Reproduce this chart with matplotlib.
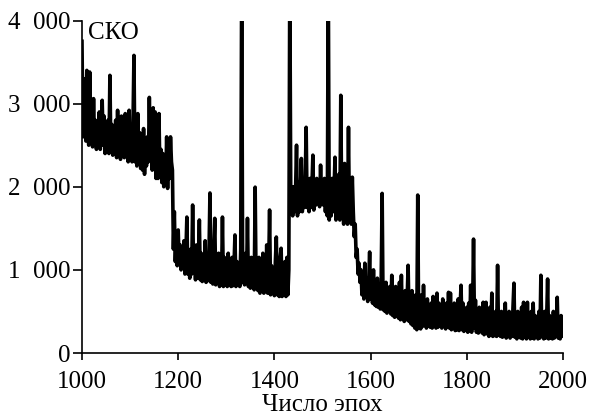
import matplotlib
matplotlib.use("Agg")
import matplotlib.pyplot as plt
from matplotlib.ticker import FuncFormatter

plt.rcParams['font.family'] = ['Liberation Serif', 'DejaVu Serif']

epoch_start = 1000
epoch_step = 2

# epochs 1000..1188
sko_a = [3750, 2600, 2900, 3300, 2550, 3400, 2700, 2500, 3380, 2650,
         3050, 2480, 3060, 2550, 2800, 2450, 2700, 2520, 2900, 2450,
         2750, 3040, 2500, 2850, 2400, 2700, 2450, 2800, 2400, 3340,
         2450, 2750, 2380, 2650, 2400, 2800, 2350, 2920, 2400, 2700,
         2330, 2850, 2400, 2600, 2350, 2880, 2380, 2700, 2300, 2920,
         2350, 2650, 2300, 2750, 3580, 2300, 2600, 2250, 2880, 2300,
         2650, 2220, 2550, 2200, 2700, 2150, 2500, 2250, 2600, 2300,
         3075, 2400, 2850, 2200, 2950, 2250, 2900, 2100, 2600, 2100,
         2880, 2150, 2450, 2050, 2400, 2000, 2350, 2050, 2600, 1980,
         2550, 2100, 2600, 2300, 2200]
# epochs 1190..1434
sko_b = [1250, 1700, 1100, 1400, 1050, 1480, 1100, 1300, 1000, 1250,
         1050, 1350, 950, 1200, 1635, 950, 1150, 900, 1250, 950,
         1780, 1000, 1150, 880, 1300, 900, 1100, 1600, 880, 1200,
         860, 1150, 900, 1350, 850, 1100, 870, 1200, 1925, 850,
         1150, 830, 1250, 1620, 820, 1100, 850, 1200, 800, 1050,
         820, 1635, 800, 1150, 830, 1050, 800, 1200, 820, 1000,
         800, 1150, 810, 1050, 1420, 800, 1100, 850, 1000, 800,
         1250, 4600, 850, 1100, 820, 1200, 850, 1620, 800, 1050,
         780, 1150, 800, 1100, 760, 1995, 780, 1000, 750, 1150,
         720, 1050, 760, 1200, 720, 1100, 740, 1300, 720, 1000,
         1720, 700, 1050, 720, 950, 690, 1100, 1395, 700, 1000,
         680, 1150, 1260, 680, 950, 700, 1100, 680, 1150, 700,
         1000, 4600, 1900]
# epochs 1436..1562
sko_c = [1850, 1650, 2000, 1700, 1950, 2500, 1650, 2050, 1700, 1950,
         2340, 1700, 2000, 1750, 2050, 2715, 1750, 1950, 1700, 2100,
         1750, 2000, 2380, 1720, 2050, 1780, 2100, 1800, 1950, 1760,
         2260, 1800, 2050, 1780, 2100, 1700, 1950, 1650, 4600, 1600,
         2000, 1650, 2100, 1700, 1950, 2355, 1600, 2000, 1650, 2150,
         1600, 3100, 1700, 2100, 1550, 2280, 1600, 2050, 1550, 2715,
         1600, 2000, 1550, 2115]
# epochs 1564..2000
sko_d = [1700, 1400, 1550, 1150, 1250, 950, 1080, 850,
         1000, 700, 950, 650, 1080, 700, 900, 620, 850, 1215,
         650, 900, 600, 1000, 580, 850, 560, 900, 550, 800,
         530, 880, 1920, 520, 800, 500, 850, 480, 750, 500,
         800, 470, 935, 450, 750, 430, 800, 460, 700, 420,
         850, 400, 935, 420, 700, 380, 750, 400, 650, 1055,
         380, 700, 350, 750, 330, 600, 300, 700, 280, 1900,
         300, 650, 290, 700, 320, 815, 350, 600, 300, 650,
         330, 550, 310, 600, 300, 680, 320, 550, 300, 720,
         310, 600, 330, 550, 300, 650, 330, 520, 290, 600,
         310, 730, 300, 720, 280, 550, 300, 600, 270, 500,
         280, 650, 270, 550, 815, 280, 600, 260, 500, 280,
         550, 250, 600, 270, 815, 250, 500, 1370, 300, 635,
         250, 500, 240, 550, 260, 450, 240, 610, 220, 500,
         610, 230, 450, 200, 550, 220, 720, 200, 450, 210,
         500, 200, 1055, 220, 450, 200, 500, 190, 400, 200,
         600, 180, 450, 200, 500, 180, 400, 200, 550, 840,
         190, 450, 170, 500, 200, 400, 180, 550, 170, 610,
         200, 450, 170, 610, 190, 400, 170, 500, 180, 600,
         170, 450, 190, 400, 170, 500, 180, 935, 200, 450,
         170, 500, 180, 400, 890, 170, 450, 180, 400, 170,
         500, 180, 450, 200, 670, 180, 400, 170, 450, 200,
         350]

sko = sko_a + sko_b + sko_c + sko_d
epochs = [epoch_start + i * epoch_step for i in range(len(sko))]

x_ticks = [1000, 1200, 1400, 1600, 1800, 2000]
y_ticks = [0, 1000, 2000, 3000, 4000]

def fmt(v, p):
    return f"{int(v):,}".replace(",", "\u2002")

fig = plt.figure(figsize=(5.94, 4.19), dpi=100)
ax = fig.add_axes([82/594, 1 - 353/419, 481/594, 332.5/419])
ax.plot(epochs, sko, color='black', lw=2.6, solid_joinstyle='round')
ax.set_xlim(1000, 2000)
ax.set_ylim(0, 4000)
ax.set_xticks(x_ticks)
ax.set_yticks(y_ticks)
ax.yaxis.set_major_formatter(FuncFormatter(fmt))
for s in ['top', 'right']:
    ax.spines[s].set_visible(False)
for s in ['left', 'bottom']:
    ax.spines[s].set_linewidth(1.2)
ax.tick_params(axis='y', length=6.5, width=1.2, labelsize=18, pad=2)
ax.tick_params(axis='x', length=5, width=1.2, labelsize=18, pad=8)
ax.set_xlabel("Число эпох", fontsize=18, labelpad=1)
ax.text(0.012, 0.995, "СКО", transform=ax.transAxes, fontsize=18, va='top', ha='left')
fig.savefig("out.png", dpi=100)
